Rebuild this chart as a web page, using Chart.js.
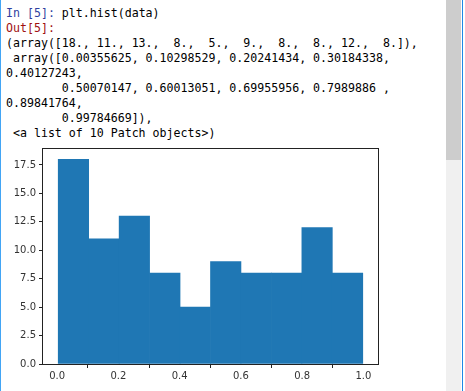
<!DOCTYPE html>
<html>
<head>
<meta charset="utf-8">
<script src="https://cdn.jsdelivr.net/npm/chart.js@4"></script>
<style>
	html, body { margin: 0; padding: 0; background: #fff; }
	body { width: 465px; height: 391px; position: relative; overflow: hidden; }
	#leftbar { position: absolute; left: 0; top: 0; width: 1px; height: 391px; background: #42a5f5; }
	#out {
		position: absolute; left: 6px; top: 6px; margin: 0;
		font-family: "DejaVu Sans Mono", monospace; font-size: 11.6px; line-height: 15px;
		color: #000;
	}
	.in { color: #303f9f; }
	.outp { color: #a01010; }
	#track { position: absolute; left: 446px; top: 0; width: 15px; height: 391px; background: #f0f0f0; }
	#thumb { position: absolute; left: 446px; top: 0; width: 15px; height: 160px; background: #cdcdcd; }
	#rightbar { position: absolute; left: 462px; top: 0; width: 1px; height: 391px; background: #1e88e5; }
	#wrap { position: absolute; left: 0; top: 140px; width: 445px; height: 251px; }
</style>
</head>
<body>
<div id="leftbar"></div>
<pre id="out"><span class="in">In [5]:</span> plt.hist(data)
<span class="outp">Out[5]:</span>
(array([18., 11., 13.,  8.,  5.,  9.,  8.,  8., 12.,  8.]),
 array([0.00355625, 0.10298529, 0.20241434, 0.30184338,
0.40127243,
        0.50070147, 0.60013051, 0.69955956, 0.7989886 ,
0.89841764,
        0.99784669]),
 &lt;a list of 10 Patch objects&gt;)</pre>
<div id="track"></div>
<div id="thumb"></div>
<div id="rightbar"></div>
<div id="wrap"><canvas id="hist"></canvas></div>

<script>
// histogram output, read from the cell output
var counts = [18, 11, 13, 8, 5, 9, 8, 8, 12, 8];
var binEdges = [0.00355625, 0.10298529, 0.20241434, 0.30184338, 0.40127243,
	0.50070147, 0.60013051, 0.69955956, 0.7989886, 0.89841764, 0.99784669];
var xTicks = [0.0, 0.2, 0.4, 0.6, 0.8, 1.0];
var yTicks = [0.0, 2.5, 5.0, 7.5, 10.0, 12.5, 15.0, 17.5];

var points = counts.map(function (c, i) {
	return { x: (binEdges[i] + binEdges[i + 1]) / 2, y: c };
});

// matplotlib style 5% margins
var span = binEdges[binEdges.length - 1] - binEdges[0];
var xMin = binEdges[0] - 0.05 * span;
var xMax = binEdges[binEdges.length - 1] + 0.05 * span;
var yMax = Math.max.apply(null, counts) * 1.05;

var frame = {
	id: 'frame',
	afterDraw: function (chart) {
		var a = chart.chartArea;
		var ctx = chart.ctx;
		ctx.save();
		ctx.strokeStyle = '#222';
		ctx.lineWidth = 1;
		ctx.strokeRect(Math.round(a.left) - 0.5, Math.round(a.top) - 0.5,
			Math.round(a.right - a.left) + 1, Math.round(a.bottom - a.top) + 1);
		ctx.restore();
	}
};

var tickFont = { family: 'DejaVu Sans', size: 10 };

new Chart(document.getElementById('hist'), {
	type: 'bar',
	data: {
		datasets: [{
			data: points,
			backgroundColor: '#1f77b4',
			borderWidth: 0,
			barPercentage: 1,
			categoryPercentage: 1
		}]
	},
	options: {
		animation: false,
		responsive: true,
		maintainAspectRatio: false,
		layout: { padding: { top: 6, right: 67, left: 0, bottom: 0 } },
		plugins: { legend: { display: false }, tooltip: { enabled: false } },
		scales: {
			x: {
				type: 'linear',
				offset: false,
				min: xMin,
				max: xMax,
				afterBuildTicks: function (s) { s.ticks = xTicks.map(function (v) { return { value: v }; }); },
				afterFit: function (s) { s.height = 27; },
				ticks: {
					font: tickFont, color: '#333', padding: 2, maxRotation: 0,
					callback: function (v) { return v.toFixed(1); }
				},
				grid: { display: true, drawOnChartArea: false, drawTicks: true, tickLength: 4, color: '#222' },
				border: { display: false }
			},
			y: {
				min: 0,
				max: yMax,
				afterBuildTicks: function (s) { s.ticks = yTicks.map(function (v) { return { value: v }; }); },
				afterFit: function (s) { s.width = 43; },
				ticks: {
					font: tickFont, color: '#333', padding: 3,
					callback: function (v) { return v.toFixed(1); }
				},
				grid: { display: true, drawOnChartArea: false, drawTicks: true, tickLength: 4, color: '#222' },
				border: { display: false }
			}
		}
	},
	plugins: [frame]
});
</script>
</body>
</html>
